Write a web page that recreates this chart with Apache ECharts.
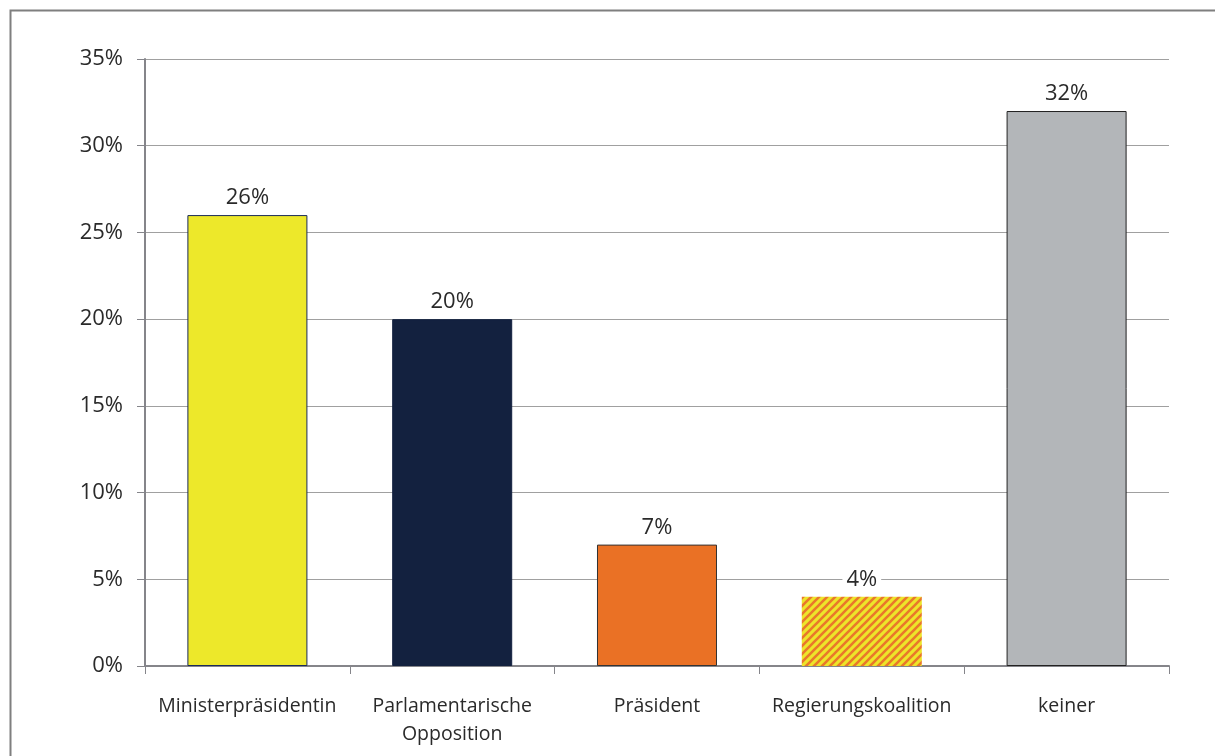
<!DOCTYPE html>
<html><head><meta charset="utf-8">
<script src="https://cdn.jsdelivr.net/npm/echarts@6/dist/echarts.min.js"></script>
<style>html,body{margin:0;padding:0;background:#fff}#c{width:1215px;height:756px}</style>
</head><body><div id="c"></div>
<script>
const categories = ['Ministerpräsidentin', 'Parlamentarische\nOpposition', 'Präsident', 'Regierungskoalition', 'keiner'];
const values = [26, 20, 7, 4, 32];
const yTicks = [0, 5, 10, 15, 20, 25, 30, 35];

function hatch() {
  const c = document.createElement('canvas');
  c.width = 8; c.height = 8;
  const g = c.getContext('2d');
  g.fillStyle = '#EDE52A'; g.fillRect(0, 0, 8, 8);
  g.strokeStyle = '#E9782A'; g.lineWidth = 2.6;
  g.beginPath();
  g.moveTo(-2, 10); g.lineTo(10, -2);
  g.moveTo(-6, 6); g.lineTo(6, -6);
  g.moveTo(2, 14); g.lineTo(14, 2);
  g.stroke();
  return c;
}
const styles = [
  {color: '#EDE82A', borderColor: '#1A2A5A', borderWidth: 1},
  {color: '#13213F', borderColor: '#13213F', borderWidth: 1},
  {color: '#EA7125', borderColor: '#333', borderWidth: 1},
  {color: {image: hatch(), repeat: 'repeat'}, borderWidth: 0},
  {color: '#B3B6B9', borderColor: '#222', borderWidth: 1}
];
const font = '"Open Sans", "Noto Sans", sans-serif';
const chart = echarts.init(document.getElementById('c'));
chart.setOption({
  animation: false,
  graphic: [{type: 'rect', left: 8, top: 8, shape: {width: 1300, height: 900},
    style: {fill: 'none', stroke: '#7f7f7f', lineWidth: 2}, z: 100, silent: true}],
  grid: {left: 145, right: 46, top: 59, bottom: 90},
  xAxis: {
    type: 'category', data: categories,
    axisLine: {lineStyle: {color: '#85858a', width: 2}},
    axisTick: {show: true, length: 8, lineStyle: {color: '#85858a', width: 1}},
    axisLabel: {color: '#2a2a2a', fontSize: 19.5, fontFamily: font, margin: 26, lineHeight: 28, interval: 0}
  },
  yAxis: {
    type: 'value', min: 0, max: 35, interval: 5,
    axisLine: {show: true, lineStyle: {color: '#85858a', width: 2}},
    axisTick: {show: true, length: 8, lineStyle: {color: '#85858a', width: 1}},
    splitLine: {lineStyle: {color: '#a0a0a0', width: 1}},
    axisLabel: {color: '#2a2a2a', fontSize: 22, fontFamily: font, margin: 22,
      formatter: v => yTicks.includes(v) ? v + '%' : ''}
  },
  series: [{
    type: 'bar', barWidth: '58.6%',
    data: values.map((v, i) => ({value: v, itemStyle: styles[i]})),
    label: {show: true, position: 'top', distance: 6, formatter: '{c}%', color: '#2a2a2a',
      fontSize: 22, fontFamily: font, backgroundColor: '#fff', padding: [0, 4]}
  }]
});
</script></body></html>
